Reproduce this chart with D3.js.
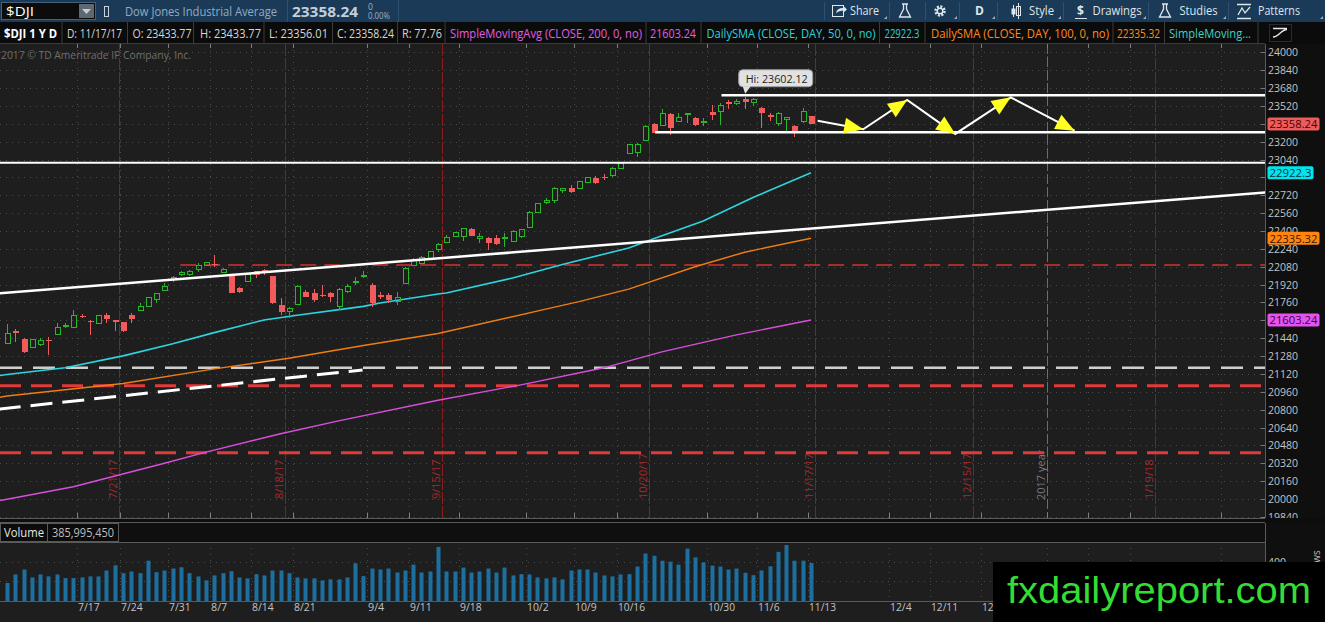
<!DOCTYPE html>
<html lang="en">
<head>
<meta charset="UTF-8">
<title>$DJI 1 Y D</title>
<script src="https://cdn.jsdelivr.net/npm/d3@7.8.5/dist/d3.min.js"></script>
<style>
  html, body { margin: 0; padding: 0; background: #1e1e1e; overflow: hidden; }
  svg { display: block; font-family: 'Open Sans', 'DejaVu Sans', sans-serif; }
</style>
</head>
<body>
<svg id="chart" width="1325" height="622"></svg>
<script>
// ---- daily bars, 7/3/17 .. 11/17/17 ----
const dates = ["7/3","7/5","7/6","7/7","7/10","7/11","7/12","7/13","7/14","7/17","7/18","7/19","7/20","7/21","7/24","7/25","7/26","7/27","7/28","7/31",
  "8/1","8/2","8/3","8/4","8/7","8/8","8/9","8/10","8/11","8/14","8/15","8/16","8/17","8/18","8/21","8/22","8/23","8/24","8/25","8/28","8/29","8/30","8/31",
  "9/1","9/5","9/6","9/7","9/8","9/11","9/12","9/13","9/14","9/15","9/18","9/19","9/20","9/21","9/22","9/25","9/26","9/27","9/28","9/29",
  "10/2","10/3","10/4","10/5","10/6","10/9","10/10","10/11","10/12","10/13","10/16","10/17","10/18","10/19","10/20","10/23","10/24","10/25","10/26","10/27","10/30","10/31",
  "11/1","11/2","11/3","11/6","11/7","11/8","11/9","11/10","11/13","11/14","11/15","11/16","11/17"];
const open = [21394,21507,21433,21358,21385,21424,21475,21543,21537,21639,21597,21573,21645,21600,21582,21645,21692,21722,21788,21866,
  21967,22009,22006,22051,22095,22104,22027,21997,21887,21946,22042,22051,21997,21737,21678,21743,21857,21842,21824,21842,21722,21857,21937,
  21991,21916,21827,21827,21767,21931,22095,22110,22155,22236,22296,22355,22349,22418,22334,22334,22334,22334,22310,22355,
  22430,22564,22654,22672,22761,22788,22782,22833,22872,22887,22893,22961,23095,23101,23209,23358,23349,23448,23379,23439,23409,23370,
  23469,23469,23558,23543,23582,23549,23498,23439,23364,23400,23340,23379,23433.77];
const high = [21567,21519,21439,21430,21445,21448,21579,21579,21693,21657,21603,21645,21663,21600,21588,21669,21752,21812,21848,21931,
  21997,22042,22051,22110,22125,22185,22066,22000,21901,22021,22045,22060,22000,21797,21722,21913,21872,21878,21916,21857,21887,21925,21985,
  22045,21931,21857,21848,21857,22075,22155,22175,22224,22290,22364,22394,22424,22424,22379,22349,22364,22379,22409,22418,
  22576,22654,22693,22791,22788,22812,22851,22887,22893,22907,22976,23015,23176,23185,23346,23364,23490,23460,23460,23460,23424,23409,
  23528,23543,23573,23579,23602.12,23588,23513,23460,23469,23418,23349,23498,23433.77];
const low = [21394,21409,21310,21352,21370,21290,21475,21528,21537,21618,21469,21570,21579,21507,21498,21579,21687,21722,21758,21866,
  21946,22000,22000,22036,22087,22075,22021,21845,21848,21946,21976,22010,21749,21648,21618,21740,21812,21767,21812,21767,21692,21842,21916,
  21976,21722,21788,21752,21737,21928,22087,22105,22150,22215,22290,22346,22313,22355,22296,22230,22275,22260,22305,22334,
  22427,22560,22642,22654,22737,22737,22773,22827,22821,22857,22887,22955,23089,23060,23206,23275,23349,23260,23379,23364,23340,23340,
  23394,23349,23490,23525,23490,23519,23319,23388,23340,23290,23245,23370,23356.01];
const close = [21478,21483,21319,21424,21415,21415,21537,21558,21639,21627,21588,21642,21609,21585,21507,21609,21722,21806,21836,21901,
  21985,22027,22036,22093,22116,22095,22057,21848,21857,22006,22006,22027,21752,21678,21707,21907,21812,21782,21818,21812,21872,21901,21952,
  22003,21758,21806,21782,21806,22066,22134,22164,22215,22275,22343,22385,22418,22358,22349,22296,22284,22343,22394,22409,
  22570,22648,22672,22782,22782,22752,22842,22881,22833,22878,22961,23006,23170,23170,23340,23281,23454,23320,23418,23448,23349,23379,
  23439,23528,23537,23558,23558,23573,23460,23424,23454,23418,23290,23469,23358.24];
// volume in millions of shares
const volume = [183,270,320,240,270,250,270,233,233,240,250,250,310,363,283,300,283,410,293,310,
  330,343,283,250,210,260,283,303,240,230,273,260,310,310,283,240,230,230,210,220,220,240,383,
  253,330,320,330,290,310,370,290,300,550,300,300,340,290,300,330,290,340,260,273,
  270,240,230,240,220,310,320,320,290,260,250,270,273,350,483,460,410,400,370,533,443,393,
  360,350,320,330,287,263,310,353,500,570,410,410,386];

// ---- moving averages, sampled along the drawn lines (bar index, value) ----
const sma50Idx = [-1,0,7,14,20,25,31,35,43,45,52,53,61,67,75,78,84,90,97];
const sma50 = [21105,21115,21176,21282,21390,21490,21603,21645,21725,21755,21836,21845,21979,22100,22248,22330,22490,22700,22922.3];
const sma100Idx = [-1,0,14,25,34,43,52,65,69,75,83,89,97];
const sma100 = [20910,20922,21035,21165,21260,21375,21482,21700,21767,21880,22080,22210,22335.32];
const sma200Idx = [-1,0,8,19,24,33,40,52,62,72,79,88,97];
const sma200 = [19985,19998,20110,20320,20420,20585,20700,20885,21022,21175,21318,21470,21603.24];

// ---- axis labels ----
const priceTicks = d3.range(19840, 24001, 160);
const weekLabels = ["7/17","7/24","7/31","8/7","8/14","8/21","9/4","9/11","9/18","10/2","10/9","10/16","10/30","11/6","11/13","12/4","12/11","12/18","1/2","1/8","1/16","1/29"];
const weekIdx = [8.48,13.63,19.46,24.49,29.4,34.54,43.39,48.53,54.52,62.6,68.4,73.6,84.4,90.5,96.6,106.4,111.4,117.5,125.5,130.4,135.5,146.5];
const expLabels = ["7/21/17","8/18/17","9/15/17","10/20/17","11/17/17","12/15/17","1/19/18"];
const expIdx = [13.5,33.5,52.5,77.5,97.5,116.5,138.5];
const yearIdx = 125.5;

// ---- user drawings (bar index, price) ----
const trendUp = [[-1, 21841], [152, 22747]];
const trendDash = [[-1, 20805], [42.9, 21156]];
const levelWhite = [[-1, 23012], [86.2, 23615], [78.2, 23284]];
const arrowPath = [[97.8,23388],[103.3,23311],[108.6,23573],[114.4,23269],[121.1,23597],[128.8,23298]];
const tags = [
  { v: 23358.24, label: "23358.24", fill: "#ec5c5c", text: "#4a0000" },
  { v: 22922.3, label: "22922.3", fill: "#00e4ec", text: "#003640" },
  { v: 22335.32, label: "22335.32", fill: "#ff8410", text: "#3a1800" },
  { v: 21603.24, label: "21603.24", fill: "#e553ef", text: "#3a003e" }
];

// ---- layout ----
const W = 1325, H = 622, plotR = 1265;
const priceTop = 44, priceBot = 518;
const volTop = 542, volBot = 601;
const markX = 993; // left edge of the watermark box

const x = d3.scaleLinear().domain([0, 97]).range([7, 811]);
const y = d3.scaleLinear().domain([19840, 24000]).range([516.9, 52.3]);
const yv = d3.scaleLinear().domain([0, 600]).range([volBot, volTop]);

const svg = d3.select('#chart');
const defs = svg.append('defs');
defs.append('clipPath').attr('id', 'pclip').append('rect')
  .attr('x', 0).attr('y', priceTop).attr('width', plotR).attr('height', priceBot - priceTop);
defs.append('clipPath').attr('id', 'dclip').append('rect')
  .attr('x', 0).attr('y', volBot).attr('width', markX).attr('height', H - volBot);

function text(g, s, px, py, o) {
  o = o || {};
  const t = g.append('text').attr('x', px).attr('y', py).text(s)
    .attr('fill', o.fill || '#d0d0d0')
    .style('font-size', (o.size || 12) + 'px');
  if (o.weight) t.style('font-weight', o.weight);
  if (o.len) t.attr('textLength', o.len).attr('lengthAdjust', 'spacingAndGlyphs');
  if (o.anchor) t.attr('text-anchor', o.anchor);
  if (o.family) t.style('font-family', o.family);
  return t;
}

// backgrounds
svg.append('rect').attr('width', W).attr('height', H).attr('fill', '#1e1e1e');
svg.append('rect').attr('x', plotR).attr('y', priceTop).attr('width', W - plotR).attr('height', H - priceTop).attr('fill', '#0f0f0f');

// ---- top toolbar ----
const bar = svg.append('g');
bar.append('rect').attr('width', W).attr('height', 22).attr('fill', '#1b3a57');
bar.append('rect').attr('x', 1.5).attr('y', 2.5).attr('width', 94).attr('height', 17).attr('fill', '#0c0c0c').attr('stroke', '#46607a');
text(bar, '$DJI', 6, 15.5, { fill: '#ffffff', size: 12, len: 28 });
bar.append('rect').attr('x', 79).attr('y', 4).attr('width', 15).attr('height', 14).attr('fill', '#5d6873');
bar.append('path').attr('d', 'M82,9 L91,9 L86.5,14 Z').attr('fill', '#c8ccd0');
bar.append('rect').attr('x', 104.5).attr('y', 6.5).attr('width', 4).attr('height', 10).attr('fill', 'none').attr('stroke', '#c9d2da');
text(bar, 'Dow Jones Industrial Average', 125, 15.5, { fill: '#93abc0', size: 12.5, len: 152 });
bar.append('line').attr('x1', 287.5).attr('x2', 287.5).attr('y1', 0).attr('y2', 22).attr('stroke', '#2e5070');
text(bar, '23358.24', 292, 16.5, { fill: '#c3cfda', size: 14, weight: 700, len: 66 });
text(bar, '0', 368, 9.5, { fill: '#9fb2c3', size: 8.5 });
text(bar, '0.00%', 368, 19, { fill: '#9fb2c3', size: 8.5, len: 22 });
bar.append('line').attr('x1', 398.5).attr('x2', 398.5).attr('y1', 0).attr('y2', 22).attr('stroke', '#2e5070');
[824, 889, 925, 959, 997, 1063, 1148, 1228].forEach(s => {
  bar.append('line').attr('x1', s + 0.5).attr('x2', s + 0.5).attr('y1', 2).attr('y2', 20).attr('stroke', '#2e5070');
});
const tb = '#dfe6ec';
// share icon
bar.append('rect').attr('x', 832.5).attr('y', 5.5).attr('width', 11).attr('height', 11).attr('fill', 'none').attr('stroke', tb);
bar.append('path').attr('d', 'M836,13 Q837,8 843,8 L843,5.5 L847,9.5 L843,13 L843,10.5 Q839,10.5 836,13 Z').attr('fill', tb);
text(bar, 'Share', 850, 15, { fill: tb, size: 12, len: 29 });
// flask
bar.append('path').attr('d', 'M902,4 L908,4 M903.5,4 L903.5,9 L899.5,17 L910.5,17 L906.5,9 L906.5,4').attr('fill', 'none').attr('stroke', tb).attr('stroke-width', 1.3);
// gear
bar.append('circle').attr('cx', 940).attr('cy', 11).attr('r', 4.5).attr('fill', 'none').attr('stroke', tb).attr('stroke-width', 2.4).attr('stroke-dasharray', '2,1.5');
bar.append('circle').attr('cx', 940).attr('cy', 11).attr('r', 2.8).attr('fill', 'none').attr('stroke', tb).attr('stroke-width', 1.5);
text(bar, 'D', 975, 15, { fill: tb, size: 12, weight: 700 });
// style icon
bar.append('path').attr('d', 'M1013.5,5 L1013.5,17 M1018.5,3 L1018.5,19').attr('stroke', tb);
bar.append('rect').attr('x', 1011.5).attr('y', 8.5).attr('width', 4).attr('height', 6).attr('fill', tb);
bar.append('rect').attr('x', 1016.5).attr('y', 6.5).attr('width', 4).attr('height', 9).attr('fill', 'none').attr('stroke', tb);
text(bar, 'Style', 1029, 15, { fill: tb, size: 12, len: 25 });
text(bar, '$', 1077, 15, { fill: tb, size: 12, weight: 700 });
bar.append('line').attr('x1', 1075).attr('x2', 1087).attr('y1', 18.5).attr('y2', 18.5).attr('stroke', tb);
text(bar, 'Drawings', 1092.5, 15, { fill: tb, size: 12, len: 49 });
bar.append('path').attr('d', 'M1162,4 L1168,4 M1163.5,4 L1163.5,9 L1159.5,17 L1170.5,17 L1166.5,9 L1166.5,4').attr('fill', 'none').attr('stroke', tb).attr('stroke-width', 1.3);
text(bar, 'Studies', 1179.5, 15, { fill: tb, size: 12, len: 38 });
bar.append('path').attr('d', 'M1237,4.5 L1251,4.5 M1238,15 L1242,8 L1245,13 L1250,7 M1237,18.5 L1251,18.5').attr('fill', 'none').attr('stroke', tb).attr('stroke-width', 1.3);
text(bar, 'Patterns', 1258, 15, { fill: tb, size: 12, len: 42 });
[[887, 19], [957, 19], [995, 19], [1061, 19], [1146, 19], [1226, 19], [1323, 19]].forEach(p => {
  bar.append('path').attr('d', `M${p[0]},${p[1]} l-3,0 l3,-3 z`).attr('fill', '#9fb2c3');
});

// ---- study legend row ----
const leg = svg.append('g');
leg.append('rect').attr('y', 22).attr('width', W).attr('height', 22).attr('fill', '#0b0b0b');
leg.append('line').attr('x1', 0).attr('x2', plotR).attr('y1', 43.5).attr('y2', 43.5).attr('stroke', '#3a3a3a');
[62, 127.5, 193.5, 264, 332.5, 397.5, 445, 646, 701, 879.5, 925, 1113, 1164.5, 1258].forEach(s => {
  leg.append('line').attr('x1', s).attr('x2', s).attr('y1', 22).attr('y2', 44).attr('stroke', '#3c3c3c');
});
const magenta = '#e35ee6', cyan = '#2ad4dc', orange = '#ff8a1c';
const legendItems = [
  ['$DJI 1 Y D', 4, 53, '#ffffff', 700],
  ['D: 11/17/17', 67, 55, '#d6d6d6'],
  ['O: 23433.77', 132.5, 59, '#d6d6d6'],
  ['H: 23433.77', 200, 61, '#d6d6d6'],
  ['L: 23356.01', 269, 59, '#d6d6d6'],
  ['C: 23358.24', 337, 57, '#d6d6d6'],
  ['R: 77.76', 402, 40, '#d6d6d6'],
  ['SimpleMovingAvg (CLOSE, 200, 0, no)', 450, 192, magenta],
  ['21603.24', 650, 46, magenta],
  ['DailySMA (CLOSE, DAY, 50, 0, no)', 706.5, 169, cyan],
  ['22922.3', 884.5, 35, cyan],
  ['DailySMA (CLOSE, DAY, 100, 0, no)', 931, 178, orange],
  ['22335.32', 1117, 43, orange],
  ['SimpleMoving...', 1169, 82, '#3fd3c4']
];
legendItems.forEach(d => text(leg, d[0], d[1], 37.5, { fill: d[3], size: 12, len: d[2], weight: d[4] }));
leg.append('rect').attr('x', 1269.5).attr('y', 24.5).attr('width', 22).attr('height', 17).attr('fill', 'none').attr('stroke', '#2b2b2b');
leg.append('path').attr('d', 'M1273,28.5 L1287,28.5 M1273,37 C1279,37 1281,29.5 1287,29.5').attr('fill', 'none').attr('stroke', '#e8e8e8').attr('stroke-width', 1.3);

// ---- price panel grid ----
const grid = svg.append('g').attr('stroke', '#4b4b4b').attr('stroke-dasharray', '1,5');
priceTicks.forEach(v => {
  grid.append('line').attr('x1', 0).attr('x2', plotR).attr('y1', Math.round(y(v)) + 0.5).attr('y2', Math.round(y(v)) + 0.5);
});
weekIdx.forEach(k => {
  const gx = Math.round(x(k)) + 0.5;
  grid.append('line').attr('x1', gx).attr('x2', gx).attr('y1', priceTop).attr('y2', priceBot);
  grid.append('line').attr('x1', gx).attr('x2', gx).attr('y1', volTop).attr('y2', volBot);
});
[200, 400].forEach(v => grid.append('line').attr('x1', 0).attr('x2', plotR).attr('y1', Math.round(yv(v)) + 0.5).attr('y2', Math.round(yv(v)) + 0.5));

text(svg, '2017 \u00A9 TD Ameritrade IP Company, Inc.', 1, 59, { fill: '#6e6e6e', size: 10.5, len: 190 });

// ---- expiration lines ----
const pg = svg.append('g').attr('clip-path', 'url(#pclip)');
expIdx.forEach((k, i) => {
  const ex = Math.round(x(k)) + 0.5;
  pg.append('line').attr('x1', ex).attr('x2', ex).attr('y1', priceTop).attr('y2', priceBot)
    .attr('stroke', '#8e1c1c').attr('stroke-dasharray', '12,2');
  text(pg, expLabels[i], 0, 0, { fill: '#a52a2a', size: 11 })
    .attr('transform', `translate(${ex - 3},499) rotate(-90)`);
});
{
  const yx = Math.round(x(yearIdx)) + 0.5;
  pg.append('line').attr('x1', yx).attr('x2', yx).attr('y1', priceTop).attr('y2', priceBot)
    .attr('stroke', '#6d6d6d').attr('stroke-dasharray', '10,3');
  text(pg, '2017 year', 0, 0, { fill: '#7a7a7a', size: 11 }).attr('transform', `translate(${yx - 3},500) rotate(-90)`);
}

// ---- drawings: horizontal levels ----
function hline(v, fromIdx, col, w, dash) {
  const l = pg.append('line').attr('x1', fromIdx == null ? 0 : x(fromIdx)).attr('x2', plotR)
    .attr('y1', y(v)).attr('y2', y(v)).attr('stroke', col).attr('stroke-width', w);
  if (dash) l.attr('stroke-dasharray', dash);
}
hline(22095, 20.9, '#d73232', 1.5, '16,8');
hline(21175, null, '#cfcfcf', 2.5, '22,11');
hline(21015, null, '#e23a3a', 3, '21,10');
hline(20415, null, '#e23a3a', 3, '21,10');

// ---- moving averages ----
const lineGen = d3.line().x(d => x(d[0])).y(d => y(d[1]));
pg.append('path').datum(d3.zip(sma200Idx, sma200)).attr('d', lineGen).attr('fill', 'none').attr('stroke', '#d84fdc').attr('stroke-width', 1.4);
pg.append('path').datum(d3.zip(sma100Idx, sma100)).attr('d', lineGen).attr('fill', 'none').attr('stroke', '#f07d12').attr('stroke-width', 1.4);
pg.append('path').datum(d3.zip(sma50Idx, sma50)).attr('d', lineGen).attr('fill', 'none').attr('stroke', '#2cd5e0').attr('stroke-width', 1.6);

// ---- candles ----
const cg = pg.append('g').attr('shape-rendering', 'crispEdges');
dates.forEach((d, i) => {
  const up = close[i] >= open[i];
  const col = up ? '#27b827' : '#f25b5b';
  const px = Math.round(x(i));
  const yt = y(Math.max(open[i], close[i])), yb = y(Math.min(open[i], close[i]));
  cg.append('line').attr('x1', px + 0.5).attr('x2', px + 0.5).attr('y1', y(high[i])).attr('y2', yt).attr('stroke', col);
  cg.append('line').attr('x1', px + 0.5).attr('x2', px + 0.5).attr('y1', yb).attr('y2', y(low[i])).attr('stroke', col);
  const bh = Math.max(1, yb - yt);
  if (up) {
    cg.append('rect').attr('x', px - 2).attr('y', yt).attr('width', 5).attr('height', bh)
      .attr('fill', 'none').attr('stroke', col);
  } else {
    cg.append('rect').attr('x', px - 2).attr('y', yt).attr('width', 6).attr('height', bh).attr('fill', col);
  }
});

// ---- drawings: white trend lines / levels ----
pg.append('path').datum(trendUp).attr('d', lineGen).attr('stroke', '#ffffff').attr('stroke-width', 2.5);
pg.append('path').datum(trendDash).attr('d', lineGen).attr('stroke', '#ffffff').attr('stroke-width', 3).attr('stroke-dasharray', '22,10');
levelWhite.forEach(d => hline(d[1], d[0] < 0 ? null : d[0], '#ffffff', d[0] < 0 ? 2 : 2.5));

// zigzag projection with yellow arrow heads
pg.append('path').datum(arrowPath).attr('d', lineGen).attr('fill', 'none').attr('stroke', '#ffffff').attr('stroke-width', 2);
for (let i = 1; i < arrowPath.length; i++) {
  const x0 = x(arrowPath[i - 1][0]), y0 = y(arrowPath[i - 1][1]);
  const x1 = x(arrowPath[i][0]), y1 = y(arrowPath[i][1]);
  const a = Math.atan2(y1 - y0, x1 - x0) * 180 / Math.PI;
  pg.append('path').attr('d', 'M0,0 L-19,-8 L-19,8 Z').attr('fill', '#ffff22')
    .attr('transform', `translate(${x1},${y1}) rotate(${a})`);
}

// high bubble
{
  const hi = d3.maxIndex(high);
  const hx = x(hi), hy = y(high[hi]);
  const b = pg.append('g');
  b.append('rect').attr('x', hx - 6).attr('y', hy - 27).attr('width', 74).attr('height', 17).attr('rx', 4)
    .attr('fill', '#e1e1e1').attr('stroke', '#9a9a9a');
  b.append('path').attr('d', `M${hx - 2},${hy - 10.5} L${hx + 6},${hy - 10.5} L${hx + 0.5},${hy - 3} Z`).attr('fill', '#e1e1e1');
  text(b, 'Hi: ' + d3.format('.2f')(high[hi]), hx + 1, hy - 14, { fill: '#222', size: 11.5, len: 62 });
}

// ---- price axis ----
const ax = svg.append('g');
ax.append('line').attr('x1', plotR + 0.5).attr('x2', plotR + 0.5).attr('y1', priceTop).attr('y2', priceBot).attr('stroke', '#5a5a5a');
priceTicks.forEach(v => {
  const ty = Math.round(y(v)) + 0.5;
  ax.append('line').attr('x1', plotR - 4).attr('x2', plotR).attr('y1', ty).attr('y2', ty).attr('stroke', '#777');
  // labels sitting right under a price tag are hidden by it
  const covered = tags.some(t => Math.abs(y(t.v) - y(v)) < 7);
  if (y(v) < priceBot && !covered) text(ax, String(v), plotR + 3, y(v) + 4, { fill: '#c4c4c4', size: 11, len: 30 });
});
tags.forEach(t => {
  const ty = y(t.v);
  const w = t.label.length > 7 ? 52 : 46;
  ax.append('rect').attr('x', plotR + 2.5).attr('y', ty - 6.5).attr('width', w).attr('height', 13).attr('rx', 2)
    .attr('fill', t.fill);
  text(ax, t.label, plotR + 4.5, ty + 4.5, { fill: t.text, size: 11.5, len: w - 4 });
});

// bottom ticks of price panel
weekIdx.forEach(k => {
  const gx = Math.round(x(k)) + 0.5;
  ax.append('line').attr('x1', gx).attr('x2', gx).attr('y1', priceBot - 5).attr('y2', priceBot).attr('stroke', '#808080');
  ax.append('line').attr('x1', gx).attr('x2', gx).attr('y1', priceTop).attr('y2', priceTop + 4).attr('stroke', '#808080');
});
ax.append('rect').attr('x', 0).attr('y', priceBot).attr('width', W).attr('height', 5).attr('fill', '#0d0d0d');
ax.append('line').attr('x1', 0).attr('x2', plotR).attr('y1', priceBot + 0.5).attr('y2', priceBot + 0.5).attr('stroke', '#5a5a5a');
ax.append('line').attr('x1', 0).attr('x2', plotR).attr('y1', priceBot + 4.5).attr('y2', priceBot + 4.5).attr('stroke', '#5a5a5a');

// ---- volume panel ----
const vg = svg.append('g');
vg.append('rect').attr('x', 0).attr('y', 523).attr('width', plotR).attr('height', volTop - 523).attr('fill', '#0f0f0f');
vg.append('line').attr('x1', 0).attr('x2', plotR).attr('y1', volTop + 0.5).attr('y2', volTop + 0.5).attr('stroke', '#5a5a5a');
vg.append('rect').attr('x', 0.5).attr('y', 523.5).attr('width', 118).attr('height', 18).attr('fill', '#0b0b0b').attr('stroke', '#5a5a5a');
vg.append('line').attr('x1', 47.5).attr('x2', 47.5).attr('y1', 523).attr('y2', 542).attr('stroke', '#5a5a5a');
text(vg, 'Volume', 4, 537, { fill: '#e6e6e6', size: 12, len: 40 });
text(vg, d3.format(',')(385995450), 52, 537, { fill: '#bdbdbd', size: 12, len: 62 });
vg.append('g').selectAll('rect').data(volume).join('rect')
  .attr('x', (d, i) => Math.round(x(i)) - 1.5)
  .attr('y', d => yv(d)).attr('width', 4).attr('height', d => volBot - yv(d))
  .attr('fill', '#1d6f9f');
vg.append('line').attr('x1', plotR + 0.5).attr('x2', plotR + 0.5).attr('y1', 523).attr('y2', volBot).attr('stroke', '#5a5a5a');
vg.append('line').attr('x1', 0).attr('x2', plotR).attr('y1', volBot + 0.5).attr('y2', volBot + 0.5).attr('stroke', '#5a5a5a');
vg.append('line').attr('x1', plotR - 4).attr('x2', plotR).attr('y1', Math.round(yv(400)) + 0.5).attr('y2', Math.round(yv(400)) + 0.5).attr('stroke', '#777');
text(vg, '400', plotR + 3, yv(400) + 4, { fill: '#c4c4c4', size: 11, len: 18 });
text(vg, '<ws', 0, 0, { fill: '#bbb', size: 10 }).attr('transform', `translate(1320,${yv(330)}) rotate(-90)`);

// date labels (the ones behind the watermark box are not shown)
const dg = vg.append('g').attr('clip-path', 'url(#dclip)');
weekIdx.forEach((k, i) => {
  const gx = Math.round(x(k)) + 0.5;
  if (gx < markX) text(dg, weekLabels[i], gx + 0.5, 611, { fill: '#c4c4c4', size: 11.5, len: weekLabels[i].length * 5.4 });
});

// ---- watermark ----
svg.append('rect').attr('x', markX).attr('y', 562).attr('width', W - markX).attr('height', H - 562).attr('fill', '#000');
text(svg, 'fxdailyreport.com', 1007, 603, { fill: '#35dc35', size: 37, len: 304, family: "'Liberation Sans', Arial, sans-serif" });
</script>
</body>
</html>
